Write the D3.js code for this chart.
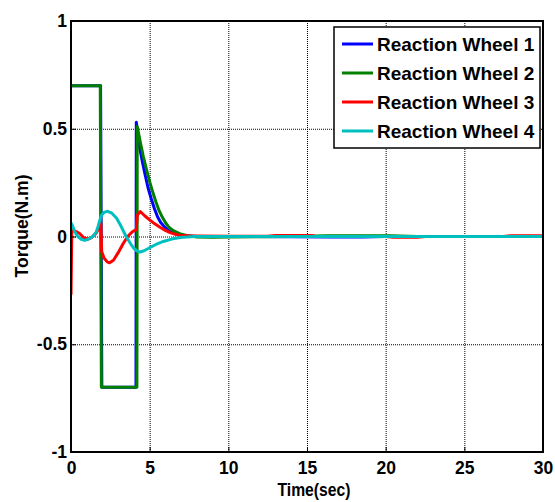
<!DOCTYPE html>
<html>
<head>
<meta charset="utf-8">
<script src="https://cdn.jsdelivr.net/npm/d3@7"></script>
<style>
  html, body { margin: 0; padding: 0; background: #fff; }
  svg { display: block; }
  text { font-family: "Liberation Sans", Arial, sans-serif; font-weight: bold; fill: #000; }
</style>
</head>
<body>
<svg id="chart" width="555" height="502"></svg>
<script>
// Reaction wheel torque time histories (time in s, torque in N.m)
const seriesNames = ["Reaction Wheel 1", "Reaction Wheel 2", "Reaction Wheel 3", "Reaction Wheel 4"];
const seriesColors = ["#0000ff", "#007f00", "#ff0000", "#00bfbf"];

const wheel1Time = [0, 1.88, 1.96, 4.13, 4.15, 4.3, 4.5, 4.7, 4.9, 5.1, 5.3, 5.5, 5.7, 6.0, 6.3, 6.7, 7.2, 8, 10, 16.5, 18.5, 20, 30];
const wheel1Torque = [0.7, 0.7, -0.7, -0.7, 0.53, 0.44, 0.36, 0.29, 0.225, 0.175, 0.13, 0.092, 0.065, 0.04, 0.022, 0.01, 0.003, 0, 0, -0.002, -0.002, 0, 0];

const wheel2Time = [0, 1.86, 1.93, 4.19, 4.21, 4.4, 4.6, 4.8, 5.0, 5.2, 5.4, 5.6, 5.8, 6.0, 6.2, 6.5, 6.9, 7.4, 8, 9, 10, 12, 14, 16.3, 18, 20.3, 22, 25, 30];
const wheel2Torque = [0.7, 0.7, -0.7, -0.7, 0.51, 0.44, 0.37, 0.31, 0.255, 0.205, 0.16, 0.12, 0.09, 0.065, 0.045, 0.027, 0.013, 0.004, -0.002, -0.003, -0.002, -0.001, 0, 0.004, 0.004, 0.003, 0, 0, 0];

const wheel3Time = [0, 0.05, 0.12, 0.3, 0.55, 0.8, 1.08, 1.3, 1.6, 1.75, 1.85, 1.9, 1.95, 2.1, 2.3, 2.45, 2.7, 3.0, 3.3, 3.6, 3.9, 4.15, 4.22, 4.4, 4.7, 5.0, 5.3, 5.66, 6.0, 6.3, 6.6, 6.93, 7.5, 8, 10, 12.5, 13, 15.3, 15.5, 20, 20.5, 22, 22.5, 27.5, 28, 30];
const wheel3Torque = [-0.27, 0.02, 0.028, 0.024, 0.014, -0.005, -0.012, -0.005, 0.016, 0.035, 0.055, 0.06, -0.07, -0.1, -0.118, -0.122, -0.11, -0.075, -0.035, 0, 0.022, 0.032, 0.1, 0.116, 0.095, 0.077, 0.06, 0.043, 0.028, 0.018, 0.011, 0.006, 0.003, 0.002, 0.001, 0.001, 0.005, 0.005, 0.001, 0, -0.003, -0.003, 0, 0, 0.004, 0.004];

const wheel4Time = [0, 0.1, 0.25, 0.44, 0.65, 0.87, 1.1, 1.4, 1.6, 1.72, 1.85, 1.95, 2.1, 2.33, 2.6, 2.9, 3.2, 3.5, 3.8, 4.0, 4.2, 4.4, 4.7, 5.0, 5.4, 5.87, 6.4, 6.93, 7.8, 30];
const wheel4Torque = [0.062, 0.05, 0.02, 0.0, -0.013, -0.018, -0.012, 0.0, 0.02, 0.047, 0.08, 0.1, 0.112, 0.117, 0.108, 0.085, 0.045, 0.0, -0.035, -0.055, -0.068, -0.072, -0.064, -0.052, -0.037, -0.023, -0.012, -0.005, 0, 0];

const xTicks = [0, 5, 10, 15, 20, 25, 30];
const yTicks = [-1, -0.5, 0, 0.5, 1];
const yTickLabels = ["-1", "-0.5", "0", "0.5", "1"];

const seriesTimes = [wheel1Time, wheel2Time, wheel3Time, wheel4Time];
const seriesTorques = [wheel1Torque, wheel2Torque, wheel3Torque, wheel4Torque];

const svg = d3.select("#chart");
const plot = { left: 71, right: 543, top: 21, bottom: 452 };

const x = d3.scaleLinear().domain([0, 30]).range([plot.left, plot.right]);
const y = d3.scaleLinear().domain([-1, 1]).range([plot.bottom, plot.top]);

// dotted grid
const grid = svg.append("g");
grid.selectAll("line.gx").data(xTicks.slice(1, -1)).join("line")
  .attr("x1", d => x(d) + 0.5).attr("x2", d => x(d) + 0.5)
  .attr("y1", plot.top).attr("y2", plot.bottom)
  .attr("stroke", "#000").attr("stroke-width", 1).attr("stroke-dasharray", "1,1");
grid.selectAll("line.gy").data(yTicks.slice(1, -1)).join("line")
  .attr("x1", plot.left).attr("x2", plot.right)
  .attr("y1", d => y(d) + 0.5).attr("y2", d => y(d) + 0.5)
  .attr("stroke", "#000").attr("stroke-width", 1).attr("stroke-dasharray", "1,1");

// series, plotted in order so later wheels sit on top
svg.append("clipPath").attr("id", "plotclip").append("rect")
  .attr("x", plot.left).attr("y", plot.top)
  .attr("width", plot.right - plot.left).attr("height", plot.bottom - plot.top);

const line = d3.line().x(d => x(d[0])).y(d => y(d[1]));
const lines = svg.append("g").attr("clip-path", "url(#plotclip)");
seriesNames.forEach((name, i) => {
  const pts = d3.zip(seriesTimes[i], seriesTorques[i]);
  lines.append("path")
    .datum(pts)
    .attr("d", line)
    .attr("fill", "none")
    .attr("stroke", seriesColors[i])
    .attr("stroke-width", 3)
    .attr("stroke-linejoin", "round");
});

// axes (inward ticks, box)
const xAxis = d3.axisBottom(x).tickValues(xTicks).tickSize(-5).tickPadding(10).tickFormat(d3.format("d"));
const yAxis = d3.axisLeft(y).tickValues(yTicks).tickSize(-5).tickPadding(4).tickFormat((d, i) => yTickLabels[i]);

const gx = svg.append("g").attr("transform", `translate(0,${plot.bottom})`).call(xAxis);
const gy = svg.append("g").attr("transform", `translate(${plot.left},0)`).call(yAxis);
[gx, gy].forEach(g => {
  g.select(".domain").remove();
  g.selectAll(".tick line").attr("stroke", "#000").attr("stroke-width", 1);
  g.selectAll(".tick text").style("font-size", "17.5px").style("font-family", "'Liberation Sans', Arial, sans-serif").style("font-weight", "bold").attr("fill", "#000");
});
gx.selectAll(".tick text").attr("dy", "0.71em");

svg.append("rect")
  .attr("x", plot.left).attr("y", plot.top)
  .attr("width", plot.right - plot.left).attr("height", plot.bottom - plot.top)
  .attr("fill", "none").attr("stroke", "#000").attr("stroke-width", 2);

// axis titles
svg.append("text")
  .attr("x", 314).attr("y", 496)
  .attr("text-anchor", "middle").style("font-size", "18px")
  .attr("textLength", 73).attr("lengthAdjust", "spacingAndGlyphs")
  .text("Time(sec)");
svg.append("text")
  .attr("transform", "translate(28,226) rotate(-90)")
  .attr("text-anchor", "middle").style("font-size", "18.5px")
  .attr("textLength", 103).attr("lengthAdjust", "spacingAndGlyphs")
  .text("Torque(N.m)");

// legend
const legend = svg.append("g").attr("transform", "translate(334,27)");
legend.append("rect").attr("width", 206).attr("height", 121)
  .attr("fill", "#fff").attr("stroke", "#000").attr("stroke-width", 1.5);
const rowY = d3.scalePoint().domain(seriesNames).range([17, 104]);
seriesNames.forEach((name, i) => {
  const ry = rowY(name);
  legend.append("line").attr("x1", 8).attr("x2", 39).attr("y1", ry).attr("y2", ry)
    .attr("stroke", seriesColors[i]).attr("stroke-width", 3);
  legend.append("text").attr("x", 43).attr("y", ry + 7)
    .style("font-size", "19px").text(name);
});
</script>
</body>
</html>
